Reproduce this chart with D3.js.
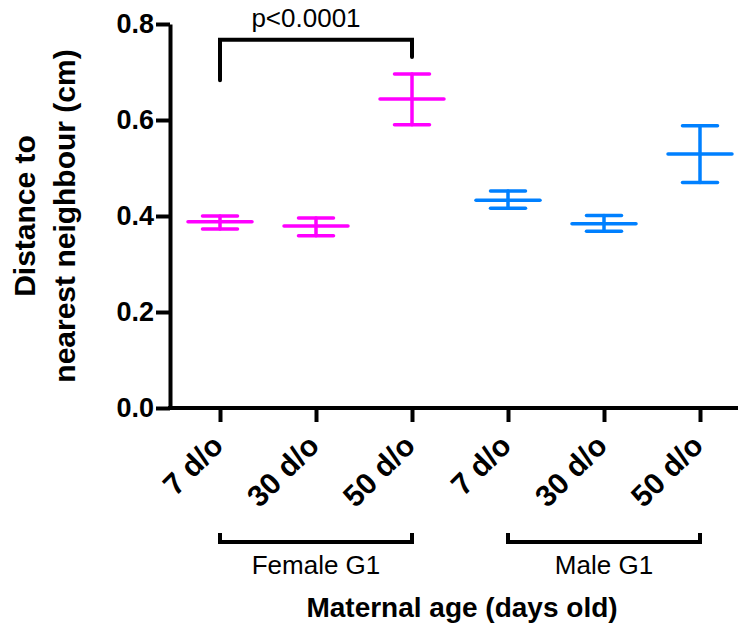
<!DOCTYPE html>
<html>
<head>
<meta charset="utf-8">
<script src="https://cdn.jsdelivr.net/npm/d3@7"></script>
<style>
  html, body { margin: 0; padding: 0; background: #fff; }
  svg { display: block; }
  text { font-family: "Liberation Sans", Arial, sans-serif; }
</style>
</head>
<body>
<svg id="chart" width="738" height="626"></svg>
<script>
// ---- data ----
const categories = ["7 d/o", "30 d/o", "50 d/o", "7 d/o", "30 d/o", "50 d/o"];
const groupOf    = [0, 0, 0, 1, 1, 1];
const groups     = ["Female G1", "Male G1"];
const groupColors = ["#FF00FF", "#0080FF"];
const means = [0.388, 0.379, 0.644, 0.433, 0.384, 0.529];
const upper = [0.400, 0.396, 0.696, 0.452, 0.401, 0.588];
const lower = [0.373, 0.359, 0.590, 0.416, 0.368, 0.470];
const yTicks = [0.0, 0.2, 0.4, 0.6, 0.8];
const sigLabel = "p<0.0001";
const sigFrom = 0, sigTo = 2;
const sigTop = 0.767, sigLeftEnd = 0.683, sigRightEnd = 0.731;

// ---- layout ----
const svg = d3.select("#chart");
const axisX = 170, axisY = 408;
const ids = d3.range(categories.length);
const x = d3.scalePoint().domain(ids).range([220, 700]);
const y = d3.scaleLinear().domain([0, 0.8]).range([408, 24]);
const lw = 4;

// y axis
const gy = svg.append("g").attr("transform", `translate(${axisX},0)`)
  .call(d3.axisLeft(y).tickValues(yTicks).tickFormat(d3.format(".1f"))
    .tickSize(14).tickSizeOuter(0).tickPadding(2));
gy.select(".domain").attr("stroke", "#000").attr("stroke-width", lw);
gy.selectAll(".tick line").attr("stroke", "#000").attr("stroke-width", lw);
gy.selectAll(".tick text").attr("fill", "#000")
  .style("font-size", "27px").style("font-weight", "bold")
  .style("font-family", "'Liberation Sans', Arial, sans-serif");

// x axis
svg.append("line").attr("x1", axisX - lw / 2).attr("x2", 738)
  .attr("y1", axisY).attr("y2", axisY)
  .attr("stroke", "#000").attr("stroke-width", lw);
const gx = svg.append("g").attr("transform", `translate(0,${axisY})`)
  .call(d3.axisBottom(x).tickSize(14).tickSizeOuter(0).tickFormat(i => categories[i]));
gx.select(".domain").remove();
gx.selectAll(".tick line").attr("stroke", "#000").attr("stroke-width", lw);
gx.selectAll(".tick text")
  .attr("fill", "#000")
  .attr("text-anchor", "end")
  .attr("x", 0).attr("y", 0).attr("dy", "0.35em")
  .attr("transform", "translate(-3,32) rotate(-45)")
  .style("font-size", "30px").style("font-weight", "bold")
  .style("font-family", "'Liberation Sans', Arial, sans-serif");

// error bars
const capHalf = 17.5, meanHalf = 32, ew = 3.5;
const eb = svg.append("g").selectAll("g").data(ids).join("g")
  .attr("stroke", i => groupColors[groupOf[i]])
  .attr("stroke-width", ew).attr("stroke-linecap", "round");
eb.append("line").attr("x1", i => x(i)).attr("x2", i => x(i))
  .attr("y1", i => y(lower[i])).attr("y2", i => y(upper[i]));
eb.append("line").attr("x1", i => x(i) - capHalf).attr("x2", i => x(i) + capHalf)
  .attr("y1", i => y(upper[i])).attr("y2", i => y(upper[i]));
eb.append("line").attr("x1", i => x(i) - capHalf).attr("x2", i => x(i) + capHalf)
  .attr("y1", i => y(lower[i])).attr("y2", i => y(lower[i]));
eb.append("line").attr("x1", i => x(i) - meanHalf).attr("x2", i => x(i) + meanHalf)
  .attr("y1", i => y(means[i])).attr("y2", i => y(means[i]));

// significance bracket
svg.append("path")
  .attr("d", d3.line()([
    [x(sigFrom), y(sigLeftEnd)], [x(sigFrom), y(sigTop)],
    [x(sigTo), y(sigTop)], [x(sigTo), y(sigRightEnd)]
  ]))
  .attr("fill", "none").attr("stroke", "#000").attr("stroke-width", lw)
  .attr("stroke-linecap", "round");
svg.append("text")
  .attr("x", (x(sigFrom) + x(sigTo)) / 2 - 10).attr("y", 27)
  .attr("text-anchor", "middle")
  .style("font-size", "26px").text(sigLabel);

// group brackets
const gb = svg.append("g").selectAll("g").data(groups).join("g");
gb.append("path")
  .attr("d", (g, gi) => {
    const idx = ids.filter(i => groupOf[i] === gi);
    const a = x(d3.min(idx)), b = x(d3.max(idx));
    return d3.line()([[a, 533], [a, 542], [b, 542], [b, 533]]);
  })
  .attr("fill", "none").attr("stroke", "#000").attr("stroke-width", lw);
gb.append("text")
  .attr("x", (g, gi) => {
    const idx = ids.filter(i => groupOf[i] === gi);
    return (x(d3.min(idx)) + x(d3.max(idx))) / 2;
  })
  .attr("y", 574).attr("text-anchor", "middle")
  .style("font-size", "26px").text(g => g);

// axis titles
svg.append("text").attr("x", 462).attr("y", 617).attr("text-anchor", "middle")
  .style("font-size", "28px").style("font-weight", "bold")
  .text("Maternal age (days old)");
const yt = svg.append("text")
  .attr("transform", "translate(0,216) rotate(-90)")
  .attr("text-anchor", "middle")
  .style("font-size", "30px").style("font-weight", "bold");
yt.append("tspan").attr("x", 0).attr("y", 35).text("Distance to");
yt.append("tspan").attr("x", 0).attr("y", 75).text("nearest neighbour (cm)");
</script>
</body>
</html>
